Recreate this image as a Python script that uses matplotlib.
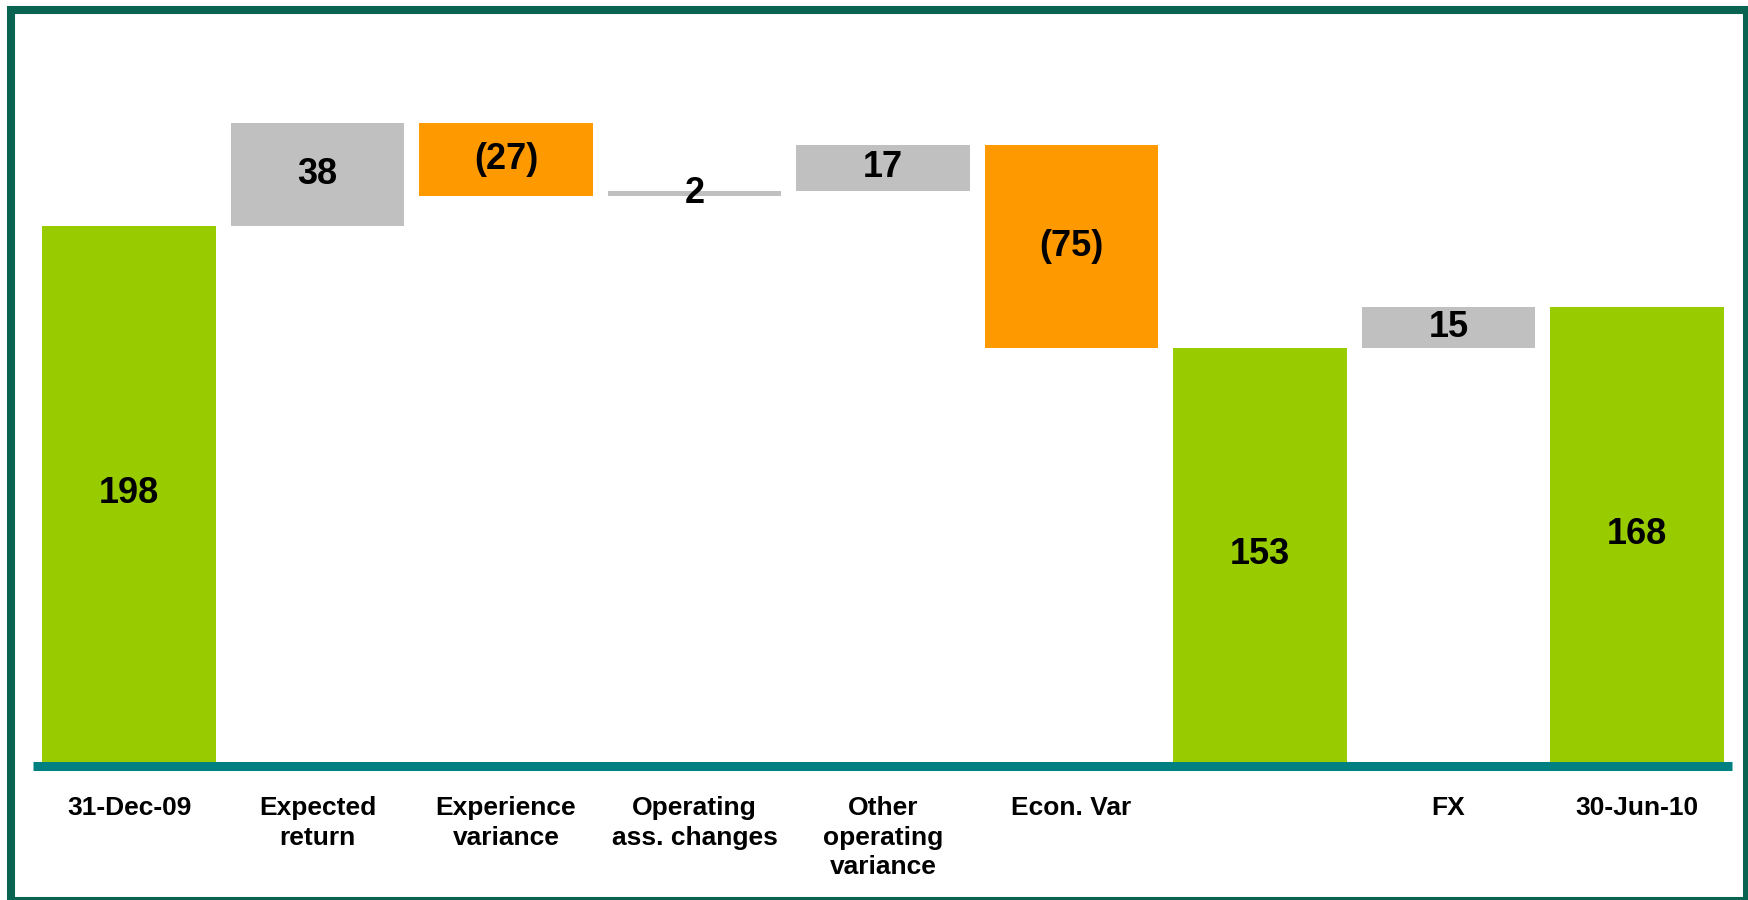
import matplotlib.pyplot as plt
from matplotlib.patches import Rectangle

# waterfall data
categories = ['31-Dec-09', 'Expected\nreturn', 'Experience\nvariance', 'Operating\nass. changes',
              'Other\noperating\nvariance', 'Econ. Var', '', 'FX', '30-Jun-10']
values = [198, 38, -27, 2, 17, -75, 153, 15, 168]
is_total = [True, False, False, False, False, False, True, False, True]

green = '#99CC00'
grey = '#C0C0C0'
orange = '#FF9900'

plt.rcParams['font.family'] = ['Liberation Sans', 'DejaVu Sans']

fig = plt.figure(figsize=(17.49, 9.0), dpi=100)
ax = fig.add_axes([33 / 1749, 129 / 900, 1699 / 1749, 751 / 900])

bottoms = []
heights = []
colors = []
running = 0
for v, tot in zip(values, is_total):
    if tot:
        bottoms.append(0)
        heights.append(v)
        colors.append(green)
        running = v
    else:
        bottoms.append(running)
        heights.append(v)
        colors.append(grey if v >= 0 else orange)
        running += v

x = list(range(len(values)))
ax.bar(x, heights, bottom=bottoms, width=0.92, color=colors, edgecolor='none')

for xi, v, b, h in zip(x, values, bottoms, heights):
    txt = str(v) if v >= 0 else '(%d)' % abs(v)
    ax.text(xi, b + h / 2, txt, ha='center', va='center', fontsize=26,
            fontweight='bold', color='black')

ax.axhline(-1.66, color='#008080', linewidth=6.5, solid_capstyle='butt', clip_on=False)

ax.set_xlim(-0.51, 8.505)
ax.set_ylim(-3.4, 274)
ax.set_xticks(x)
ax.set_xticklabels(categories, fontsize=19, fontweight='bold', linespacing=1.3)
ax.tick_params(axis='x', length=0, pad=18)
ax.set_yticks([])
for s in ax.spines.values():
    s.set_visible(False)

# outer frame
fig.patches.append(Rectangle((11 / 1749, -1 / 900), 1736 / 1749, 891 / 900,
                             transform=fig.transFigure, fill=False,
                             edgecolor='#086450', linewidth=5.8))

fig.savefig('out.png', dpi=100)
